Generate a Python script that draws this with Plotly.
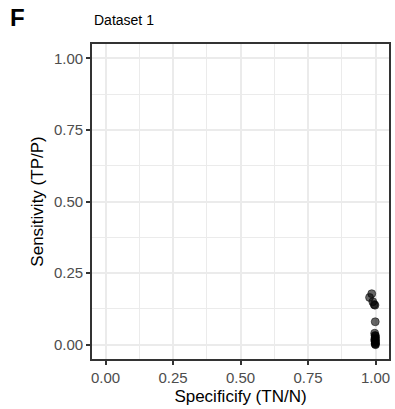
import plotly.graph_objects as go

specificity = [0.978, 0.986, 0.990, 0.995, 0.998, 0.999, 0.997, 0.998, 0.999, 1.000, 0.998, 1.000, 0.999, 1.000, 0.997, 1.000, 0.999, 1.000]
sensitivity = [0.165, 0.178, 0.150, 0.140, 0.138, 0.080, 0.040, 0.032, 0.025, 0.020, 0.012, 0.008, 0.004, 0.000, 0.018, 0.030, 0.002, 0.014]
tick_vals = [0, 0.25, 0.5, 0.75, 1.0]
tick_text = ["0.00", "0.25", "0.50", "0.75", "1.00"]

fig = go.Figure()
fig.add_trace(go.Scatter(
    x=specificity, y=sensitivity, mode="markers",
    marker=dict(size=8, color="rgba(0,0,0,0.6)",
                line=dict(color="rgba(0,0,0,0.5)", width=1)),
    showlegend=False,
))

axis_common = dict(
    range=[-0.05, 1.05], tickvals=tick_vals, ticktext=tick_text,
    showline=True, mirror=True, linecolor="#333333", linewidth=1.8,
    ticks="outside", ticklen=4, tickwidth=1.5, tickcolor="#333333",
    showgrid=True, gridcolor="#EBEBEB", gridwidth=1.6,
    minor=dict(showgrid=True, gridcolor="#EBEBEB", gridwidth=0.9, dtick=0.125, tick0=0.125, ticks=""),
    tickfont=dict(family="Liberation Sans, Arial", size=15, color="#4D4D4D"),
    zeroline=False,
)
fig.update_xaxes(**axis_common, title=dict(text="Specificify (TN/N)", standoff=5,
                 font=dict(family="Liberation Sans, Arial", size=17, color="black")))
fig.update_yaxes(**axis_common, title=dict(text="Sensitivity (TP/P)", standoff=6,
                 font=dict(family="Liberation Sans, Arial", size=17, color="black")))

W, H = 395 - 92 - 4, 409 - 44 - 50
fig.update_layout(
    width=395, height=409,
    margin=dict(l=92, r=4, t=44, b=50),
    plot_bgcolor="white", paper_bgcolor="white",
    annotations=[
        dict(text="<b>F</b>", x=(7 - 92) / W, y=(359 - 17) / H, xref="paper", yref="paper", showarrow=False,
             font=dict(family="Liberation Sans, Arial", size=24, color="black"),
             xanchor="left", yanchor="middle"),
        dict(text="Dataset 1", x=0, y=(359 - 20) / H, xref="paper", yref="paper", showarrow=False,
             font=dict(family="Liberation Sans, Arial", size=14, color="black"),
             xanchor="left", yanchor="middle"),
    ],
)

fig.write_html("out.html")
